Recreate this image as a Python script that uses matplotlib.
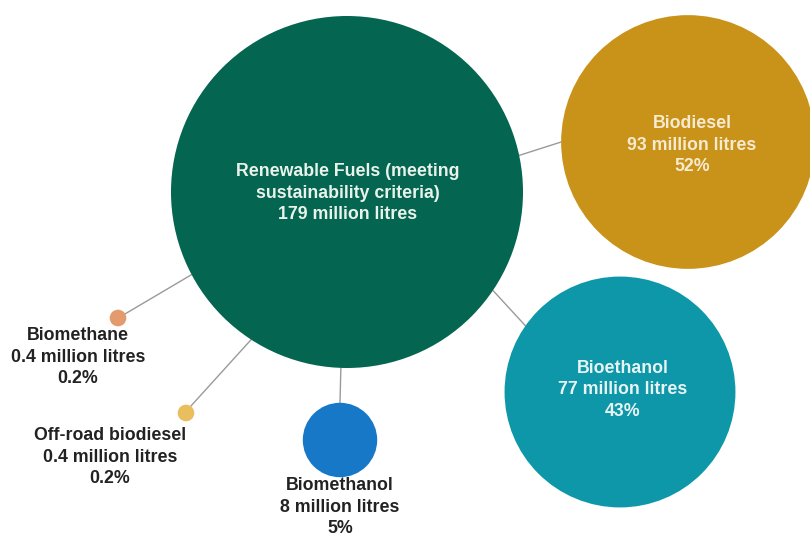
import numpy as np
import matplotlib
matplotlib.use("Agg")
import matplotlib.pyplot as plt
from matplotlib.patches import Circle

# ---- data ----
names = ["Renewable Fuels (meeting\nsustainability criteria)", "Biodiesel", "Bioethanol",
         "Biomethanol", "Biomethane", "Off-road biodiesel"]
volumes = [179, 93, 77, 8, 0.4, 0.4]          # million litres
vol_labels = ["179", "93", "77", "8", "0.4", "0.4"]
shares = [None, "52%", "43%", "5%", "0.2%", "0.2%"]

# ---- layout (pixel space, y down) ----
W, H = 810, 536
centers = [(347, 192), (688, 142), (620, 392), (340, 440), (118, 318), (186, 413)]
colors = ["#046550", "#C99219", "#0D97A8", "#1878C8", "#E39A6C", "#E9BE5F"]
k = 176 / np.sqrt(179)                        # area-proportional radius scale
radii = [k * np.sqrt(v) for v in volumes]
inside = [True, True, True, False, False, False]
text_colors = ["#EAF2EC", "#F6EAD0", "#E8F4F4"]
text_offsets = [(1, 1), (4, 3), (3, -2)]
label_pos = [None, None, None, (340, 507), (78, 357), (110, 457)]
# connectors: (child index, angle on main circle, angle on child circle) in degrees
connectors = [(1, 12, 180), (2, -34, 145), (3, -92, 90), (4, -152, 30), (5, -123, 55)]

FONT = "Liberation Sans"
FS = 12.8
LS = 1.38

fig = plt.figure(figsize=(W / 100, H / 100), dpi=100)
ax = fig.add_axes([0, 0, 1, 1])
ax.set_xlim(0, W)
ax.set_ylim(H, 0)
ax.axis("off")

def edge(i, ang):
    cx, cy = centers[i]
    r = radii[i]
    a = np.deg2rad(ang)
    return cx + r * np.cos(a), cy - r * np.sin(a)

for ci, a_main, a_child in connectors:
    x0, y0 = edge(0, a_main)
    x1, y1 = edge(ci, a_child)
    ax.plot([x0, x1], [y0, y1], color="#9a9a9a", lw=1.0, zorder=1)

for i, (c, r, col) in enumerate(zip(centers, radii, colors)):
    ax.add_patch(Circle(c, r, facecolor=col, edgecolor="none", zorder=2))

for i in range(len(names)):
    if i == 0:
        txt = f"{names[i]}\n{vol_labels[i]} million litres"
    else:
        txt = f"{names[i]}\n{vol_labels[i]} million litres\n{shares[i]}"
    if inside[i]:
        x, y = centers[i]
        dx, dy = text_offsets[i]
        ax.text(x + dx, y + dy, txt, ha="center", va="center", color=text_colors[i],
                fontsize=FS, fontweight="bold", family=FONT, linespacing=LS,
                zorder=3)
    else:
        x, y = label_pos[i]
        ax.text(x, y, txt, ha="center", va="center", color="#222222",
                fontsize=FS, fontweight="bold", family=FONT, linespacing=LS,
                zorder=3)

fig.savefig("out.png", dpi=100, facecolor="white")
